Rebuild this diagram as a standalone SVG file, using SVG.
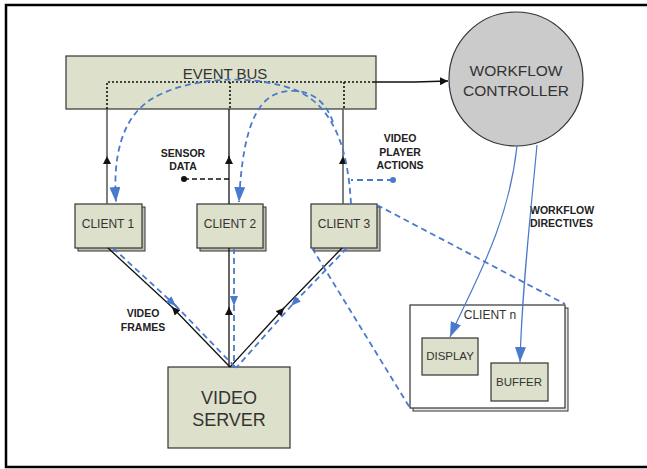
<svg xmlns="http://www.w3.org/2000/svg" width="647" height="469" viewBox="0 0 647 469">
<defs>
<style>
.box{fill:#dde0ca;stroke:#333;stroke-width:1.2}
.shade{fill:#bfc1b0;stroke:#333;stroke-width:1}
.lbl{font-family:"Liberation Sans",Arial,sans-serif;fill:#333;text-anchor:middle;dominant-baseline:central}
.bold{font-family:"Liberation Sans",Arial,sans-serif;fill:#222;font-weight:bold;font-size:10.5px;text-anchor:middle;dominant-baseline:central}
.bold.start{text-anchor:start}
.blk{stroke:#111;stroke-width:1.3;fill:none}
.gry{stroke:#555;stroke-width:1.5;fill:none}
.bdash{stroke:#4a7acd;stroke-width:1.8;fill:none;stroke-dasharray:6 4}
.bsolid{stroke:#4a7acd;stroke-width:1.2;fill:none}
</style>
<marker id="ak" viewBox="0 0 10 10" refX="10" refY="5" markerWidth="8" markerHeight="8" markerUnits="userSpaceOnUse" orient="auto"><path d="M0,0 L10,5 L0,10 z" fill="#111"/></marker>
<marker id="ab" viewBox="0 0 10 10" refX="10" refY="5" markerWidth="15" markerHeight="11" markerUnits="userSpaceOnUse" orient="auto" preserveAspectRatio="none"><path d="M0,0 L10,5 L0,10 z" fill="#4a7acd"/></marker>
<marker id="abs" viewBox="0 0 10 10" refX="10" refY="5" markerWidth="10" markerHeight="8" markerUnits="userSpaceOnUse" orient="auto" preserveAspectRatio="none"><path d="M0,0 L10,5 L0,10 z" fill="#4a7acd"/></marker>
</defs>
<rect x="0" y="0" width="647" height="469" fill="#fff"/>
<rect x="6" y="5" width="646" height="462" fill="none" stroke="#000" stroke-width="2.5"/>

<g id="event-bus">
<rect class="box" x="66" y="56" width="310" height="53"/>
<text class="lbl" x="225" y="73" font-size="15">EVENT BUS</text>
</g>

<g id="workflow-controller">
<ellipse cx="516" cy="79" rx="67" ry="67" fill="#cbcbcb" stroke="#333" stroke-width="1.2"/>
<text class="lbl" x="516" y="70" font-size="15.5">WORKFLOW</text>
<text class="lbl" x="516" y="90" font-size="15.5">CONTROLLER</text>
</g>

<g id="client-1">
<rect class="shade" x="78" y="207" width="67" height="44"/>
<rect class="box" x="75" y="204" width="67" height="44"/>
<text class="lbl" x="108" y="224" font-size="12">CLIENT 1</text>
</g>
<g id="client-2">
<rect class="shade" x="200" y="207" width="66" height="44"/>
<rect class="box" x="197" y="204" width="66" height="44"/>
<text class="lbl" x="230" y="224" font-size="12">CLIENT 2</text>
</g>
<g id="client-3">
<rect class="shade" x="314" y="207" width="66" height="44"/>
<rect class="box" x="311" y="204" width="66" height="44"/>
<text class="lbl" x="344" y="224" font-size="12">CLIENT 3</text>
</g>

<g id="video-server">
<rect class="box" x="168" y="367" width="122" height="81"/>
<text class="lbl" x="229" y="398" font-size="18">VIDEO</text>
<text class="lbl" x="229" y="420" font-size="18">SERVER</text>
</g>

<g id="client-n">
<rect x="413" y="308" width="155" height="103" fill="#e8e8e8" stroke="#333" stroke-width="1"/>
<rect x="410" y="305" width="155" height="103" fill="#fff" stroke="#333" stroke-width="1.2"/>
<text class="lbl" x="490" y="315" font-size="12">CLIENT n</text>
</g>
<g id="display">
<rect class="box" x="422" y="338" width="56" height="37"/>
<text class="lbl" x="450" y="356" font-size="11.5">DISPLAY</text>
</g>
<g id="buffer">
<rect class="box" x="491" y="363" width="57" height="38"/>
<text class="lbl" x="519" y="382" font-size="11.5">BUFFER</text>
</g>

<g id="labels">
<text class="bold" x="183" y="153">SENSOR</text>
<text class="bold" x="183" y="166">DATA</text>
<text class="bold" x="400" y="138">VIDEO</text>
<text class="bold" x="400" y="152">PLAYER</text>
<text class="bold" x="400" y="165">ACTIONS</text>
<text class="bold" x="143" y="313">VIDEO</text>
<text class="bold" x="143" y="327">FRAMES</text>
<text class="bold start" x="530" y="210">WORKFLOW</text>
<text class="bold start" x="530" y="223">DIRECTIVES</text>
</g>

<g id="connectors">
<path d="M107 109 V82 H373 M230 82 V109 M344 82 V109" stroke="#111" stroke-width="1.6" fill="none" stroke-dasharray="2 2"/>
<path class="blk" d="M373 82 L415 82 L448 81" marker-end="url(#ak)"/>
<path class="gry" d="M107 204 V156" marker-end="url(#ak)"/>
<path class="gry" d="M107 158 V109"/>
<path class="blk" d="M229 204 V156" marker-end="url(#ak)"/>
<path class="blk" d="M229 158 V109"/>
<path class="gry" d="M343 204 V156" marker-end="url(#ak)"/>
<path class="gry" d="M343 158 V109"/>
<path d="M184 179 H229" stroke="#111" stroke-width="1.5" stroke-dasharray="5 3" fill="none"/>
<circle cx="184" cy="179" r="3" fill="#111"/>
<path class="bdash" d="M393 180 H351" stroke-width="1.5"/>
<circle cx="393" cy="180" r="3" fill="#4a7acd"/>
<path class="bdash" d="M351 204 C348 150 335 110 300 92 C260 74 190 75 150 100 C120 120 113 160 116 202" marker-end="url(#ab)"/>
<path class="bdash" d="M333 122 C325 100 310 90 290 91 C260 92 243 120 239 202" marker-end="url(#ab)"/>
<path class="blk" d="M230 367 L172 307" marker-end="url(#ak)"/>
<path class="blk" d="M173 308 L108 248"/>
<path class="blk" d="M229 367 V307" marker-end="url(#ak)"/>
<path class="blk" d="M229 309 V248"/>
<path class="blk" d="M230 367 L284 308" marker-end="url(#ak)"/>
<path class="blk" d="M283 309 L342 248"/>
<path class="bdash" d="M113 248 L176 306" marker-end="url(#abs)"/>
<path class="bdash" d="M175 305 L235 367"/>
<path class="bdash" d="M234 248 V306" marker-end="url(#abs)"/>
<path class="bdash" d="M234 305 V368"/>
<path class="bdash" d="M347 248 L291 306" marker-end="url(#abs)"/>
<path class="bdash" d="M292 305 L236 368"/>
<path class="bdash" d="M377 205 L565 304"/>
<path class="bdash" d="M312 248 L410 408"/>
<path class="bsolid" d="M517 146 C508 230 470 290 450 337" marker-end="url(#ab)"/>
<path class="bsolid" d="M537 145 C530 220 522 290 520 362" marker-end="url(#ab)"/>
</g>
</svg>
